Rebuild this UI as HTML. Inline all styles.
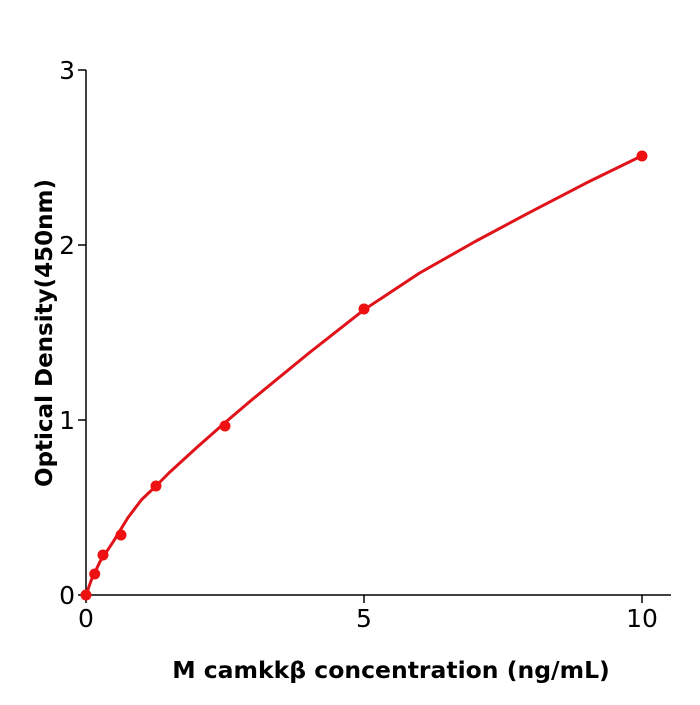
<!DOCTYPE html>
<html><head><style>body{margin:0;background:#fff}</style></head><body>
<svg width="700" height="700" xmlns="http://www.w3.org/2000/svg" style="font-family:'DejaVu Sans','Liberation Sans',sans-serif">
<g stroke="#000" stroke-width="1.5" fill="none">
<line x1="86" y1="70" x2="86" y2="596"/>
<line x1="85" y1="595" x2="671" y2="595"/>
<line x1="78" y1="70" x2="86" y2="70"/>
<line x1="78" y1="245" x2="86" y2="245"/>
<line x1="78" y1="420" x2="86" y2="420"/>
<line x1="78" y1="595" x2="86" y2="595"/>
<line x1="86" y1="595" x2="86" y2="603"/>
<line x1="364" y1="595" x2="364" y2="603"/>
<line x1="642" y1="595" x2="642" y2="603"/>
</g>
<g font-size="25" fill="#000">
<text x="75" y="79" text-anchor="end">3</text>
<text x="75" y="254" text-anchor="end">2</text>
<text x="75" y="429" text-anchor="end">1</text>
<text x="75" y="604" text-anchor="end">0</text>
<text x="86" y="627" text-anchor="middle">0</text>
<text x="364" y="627" text-anchor="middle">5</text>
<text x="642" y="627" text-anchor="middle">10</text>
</g>
<text x="391" y="678" text-anchor="middle" font-size="23.5" font-weight="bold">M  camkkβ concentration (ng/mL)</text>
<text transform="translate(52,333) rotate(-90)" text-anchor="middle" font-size="23" font-weight="bold">Optical Density(450nm)</text>
<polyline fill="none" stroke="#e0131a" stroke-width="3" stroke-linejoin="round" points="86,595 91.6,579.3 99.9,561.8 113.8,540.8 127.7,518 141.6,499.6 155.5,486.5 169.4,472.5 197.2,447.1 225,422.6 252.8,399 308.4,353.5 364,309.8 419.6,273 475.2,241.5 530.8,211.8 586.4,182.9 642,155.8"/>
<g fill="#ee1111">
<circle cx="86" cy="595" r="5.5"/>
<circle cx="94.7" cy="574" r="5.5"/>
<circle cx="103" cy="555" r="5.5"/>
<circle cx="121" cy="535" r="5.5"/>
<circle cx="156" cy="486" r="5.5"/>
<circle cx="225" cy="426" r="5.5"/>
<circle cx="364" cy="309" r="5.5"/>
<circle cx="642" cy="156" r="5.5"/>
</g>
</svg>
</body></html>
